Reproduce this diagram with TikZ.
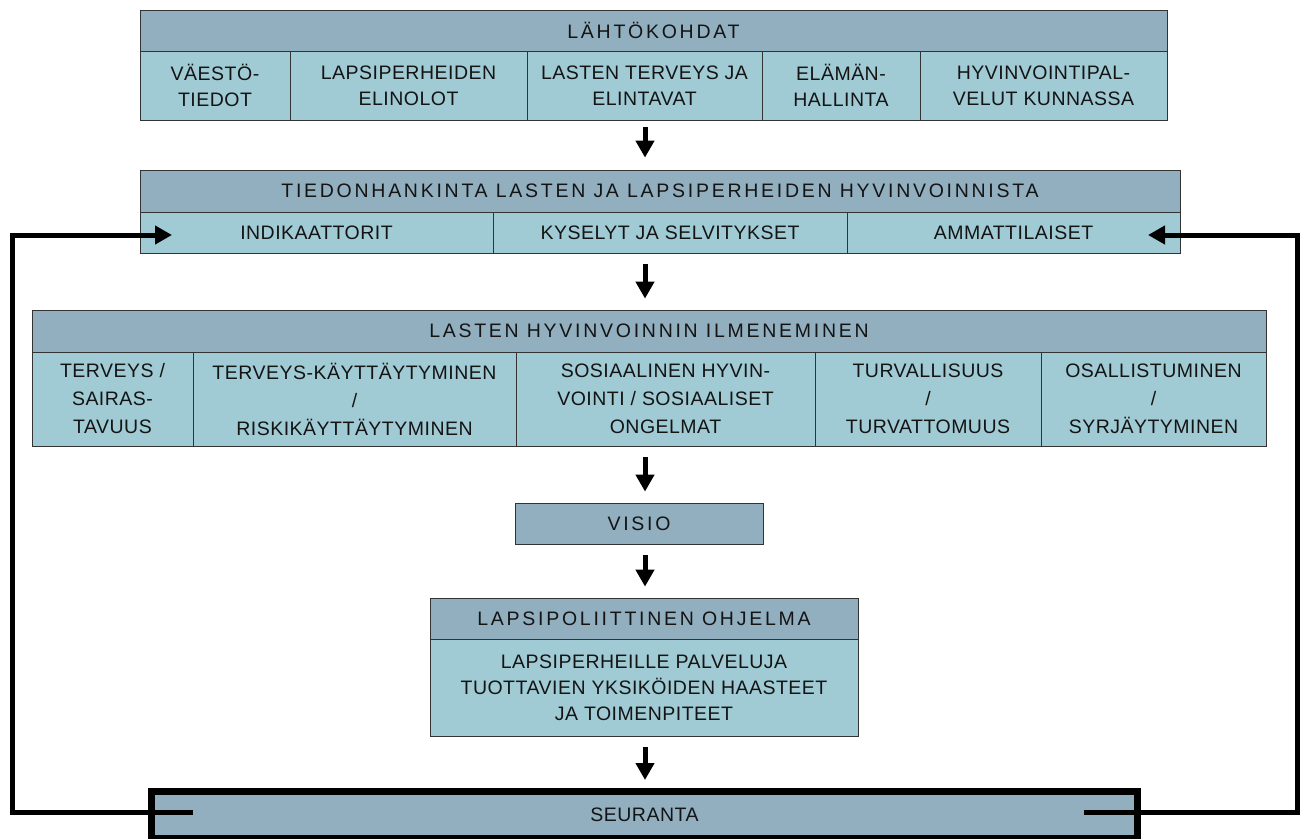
\documentclass[tikz,border=0pt]{standalone}
\usepackage{fontspec}
\setmainfont{Liberation Sans}[LetterSpace=2.5]
\newfontfamily\headfont{Liberation Sans}[LetterSpace=14]
\usetikzlibrary{positioning,arrows.meta}
\definecolor{headblue}{RGB}{146,175,192}
\definecolor{cellblue}{RGB}{160,203,213}
\definecolor{inktext}{RGB}{20,20,20}
\begin{document}
\begin{tikzpicture}[x=1pt,y=1pt]
		\tikzstyle{every node}+=[inner sep=0pt, text=inktext]
		\tikzstyle{head}=[draw=black!80, line width=0.8pt, fill=headblue, font=\headfont\fontsize{19.5}{26}\selectfont]
		\tikzstyle{cell}=[draw=black!80, line width=0.8pt, fill=cellblue, align=center, font=\fontsize{19.5}{26}\selectfont]
		\tikzstyle{tallcell}=[cell, font=\fontsize{19.5}{28}\selectfont]
		\tikzstyle{down}=[line width=5pt, -{Triangle[length=17pt,width=18pt]}, shorten <=11pt, shorten >=11pt]
		\tikzstyle{loopline}=[line width=5pt, -{Triangle[length=17pt,width=18pt]}]
		\useasboundingbox (0,0) rectangle (1303,-838);
		\coordinate (axis) at (645,0);
		\node[head, minimum width=1027pt, minimum height=41pt] (lk) at (653.5,-30.5) {LÄHTÖKOHDAT};
		\node[cell, minimum width=150pt, minimum height=69pt] (lk1) at (215,-85.5) {VÄESTÖ-\\TIEDOT};
		\node[cell, minimum width=237pt, minimum height=69pt] (lk2) at (408.5,-85.5) {LAPSIPERHEIDEN\\ELINOLOT};
		\node[cell, minimum width=235pt, minimum height=69pt] (lk3) at (644.5,-85.5) {LASTEN TERVEYS JA\\ELINTAVAT};
		\node[cell, minimum width=158pt, minimum height=69pt] (lk4) at (841,-85.5) {ELÄMÄN-\\HALLINTA};
		\node[cell, minimum width=247pt, minimum height=69pt] (lk5) at (1043.5,-85.5) {HYVINVOINTIPAL-\\VELUT KUNNASSA};
		\node[head, minimum width=1040pt, minimum height=42pt] (tieto) at (660,-191) {TIEDONHANKINTA LASTEN JA LAPSIPERHEIDEN HYVINVOINNISTA};
		\node[cell, minimum width=353pt, minimum height=41pt] (ind) at (316.5,-232.5) {INDIKAATTORIT};
		\node[cell, minimum width=354pt, minimum height=41pt] (kys) at (670,-232.5) {KYSELYT JA SELVITYKSET};
		\node[cell, minimum width=333pt, minimum height=41pt] (amm) at (1013.5,-232.5) {AMMATTILAISET};
		\node[head, minimum width=1234pt, minimum height=42pt] (hv) at (649,-331) {LASTEN HYVINVOINNIN ILMENEMINEN};
		\node[tallcell, minimum width=161pt, minimum height=94pt] (hv1) at (112.5,-399) {TERVEYS /\\SAIRAS-\\TAVUUS};
		\node[tallcell, minimum width=323pt, minimum height=94pt] (hv2) at (354.5,-399) {TERVEYS-KÄYTTÄYTYMINEN\\/\\RISKIKÄYTTÄYTYMINEN};
		\node[tallcell, minimum width=299pt, minimum height=94pt] (hv3) at (665.5,-399) {SOSIAALINEN HYVIN-\\VOINTI / SOSIAALISET\\ONGELMAT};
		\node[tallcell, minimum width=226pt, minimum height=94pt] (hv4) at (928,-399) {TURVALLISUUS\\/\\TURVATTOMUUS};
		\node[tallcell, minimum width=225pt, minimum height=94pt] (hv5) at (1153.5,-399) {OSALLISTUMINEN\\/\\SYRJÄYTYMINEN};
		\node[head, minimum width=248pt, minimum height=41pt] (visio) at (639,-523.5) {VISIO};
		\node[head, minimum width=428pt, minimum height=41pt] (ohj) at (644,-618.5) {LAPSIPOLIITTINEN OHJELMA};
		\node[cell, minimum width=428pt, minimum height=97pt] (ohjt) at (644,-687.5) {LAPSIPERHEILLE PALVELUJA\\TUOTTAVIEN YKSIKÖIDEN HAASTEET\\JA TOIMENPITEET};
		\node[draw=black, line width=7pt, fill=headblue, minimum width=986pt, minimum height=47pt, font=\fontsize{19.5}{26}\selectfont] (seu) at (644.5,-815) {SEURANTA};
		\coordinate (seuL) at (193,-812);
		\coordinate (seuR) at (1084,-812);
		\coordinate (indIn) at (172,-235);
		\coordinate (ammIn) at (1148,-235);
		\draw[down, shorten <=7pt, shorten >=12pt] (axis |- lk3.south) -- (axis |- tieto.north);
		\draw[down] (axis |- kys.south) -- (axis |- hv.north);
		\draw[down] (axis |- hv3.south) -- (axis |- visio.north);
		\draw[down] (axis |- visio.south) -- (axis |- ohj.north);
		\draw[down, shorten >=8pt] (axis |- ohjt.south) -- (axis |- seu.north);
		\draw[loopline] (seuL) -- (12,-812) -- (12,-235) -- (indIn);
		\draw[loopline] (seuR) -- (1297,-812) -- (1297,-235) -- (ammIn);
		\end{tikzpicture}
\end{document}
